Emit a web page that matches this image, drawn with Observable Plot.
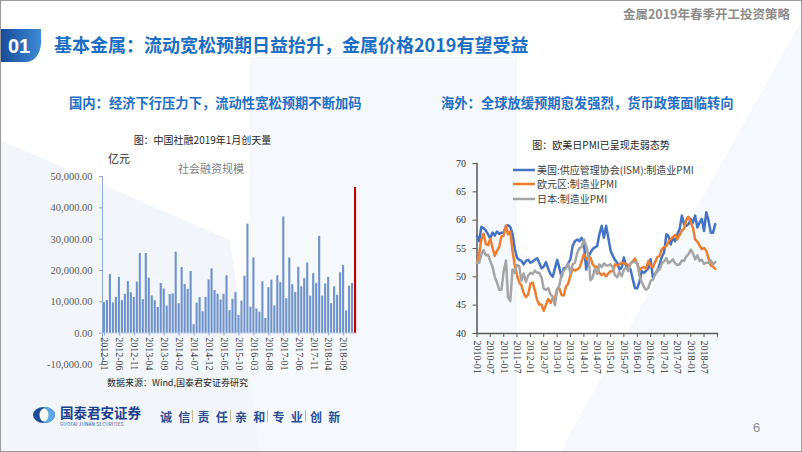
<!DOCTYPE html>
<html><head><meta charset="utf-8">
<script src="https://cdn.jsdelivr.net/npm/d3@7"></script>
<script src="https://cdn.jsdelivr.net/npm/@observablehq/plot@0.6"></script>
<style>
html,body{margin:0;padding:0;background:#fff;}
body{width:802px;height:452px;position:relative;overflow:hidden;font-family:"Noto Sans CJK SC","Noto Sans",sans-serif;}
.abs{position:absolute;white-space:nowrap;line-height:1;}
#frame{position:absolute;left:0;top:0;width:800px;height:450px;border:1px solid #9a9a9a;}
.plotbox{position:absolute;}
.plotbox svg{overflow:visible;}
</style></head><body>
<svg class="abs" style="left:0;top:0" width="802" height="452">
  <defs>
    <linearGradient id="tabg" x1="0" x2="1" y1="0" y2="0">
      <stop offset="0" stop-color="#174a97"/><stop offset="1" stop-color="#3d8bd8"/>
    </linearGradient>
  </defs>
  <polygon points="250,57 517,57 517,452 250,452" fill="#f5f8fc"/>
  <polygon points="802,20 802,452 560,452" fill="#f5f8fc"/>
  <polygon points="0,140 230,240 260,452 0,452" fill="#f2f6fb"/>
  <path d="M0,29 L41,29 L41,44 Q39,60 27,62 L0,62 Z" fill="url(#tabg)"/>
  <g transform="translate(44,415)">
    <ellipse cx="0" cy="0" rx="11" ry="8" fill="#1d4d9e"/>
    <path d="M0,-8 A11,8 0 0 1 0,8 Z" fill="#5aa8e6"/>
    <ellipse cx="0" cy="0" rx="4.5" ry="6.5" fill="#fff"/>
  </g>
</svg>
<div id="frame"></div>

<div class="abs" style="right:12px;top:8px;font-size:12.5px;font-weight:700;color:#8c8c8c;">金属2019年春季开工投资策略</div>
<div class="abs" style="left:8px;top:35.5px;font-size:20px;font-weight:700;color:#fff;font-family:'Liberation Sans','Noto Sans',sans-serif;">01</div>
<div class="abs" style="left:54px;top:35px;font-size:18px;font-weight:700;color:#1a6ec4;">基本金属：流动宽松预期日益抬升，金属价格2019有望受益</div>
<div class="abs" style="left:69px;top:96px;font-size:13.3px;font-weight:700;color:#1f6fc6;">国内：经济下行压力下，流动性宽松预期不断加码</div>
<div class="abs" style="left:441px;top:96px;font-size:13.3px;font-weight:700;color:#1f6fc6;">海外：全球放缓预期愈发强烈，货币政策面临转向</div>

<div class="abs" style="left:202.5px;top:135px;transform:translateX(-50%);font-size:10px;color:#262626;">图：中国社融2019年1月创天量</div>
<div class="abs" style="left:601px;top:140px;transform:translateX(-50%);font-size:10px;color:#262626;">图：欧美日PMI已呈现走弱态势</div>
<div class="abs" style="left:108px;top:152.5px;font-size:11px;color:#262626;">亿元</div>
<div class="abs" style="left:178px;top:162.5px;font-size:11px;color:#7f7f7f;">社会融资规模</div>
<div class="abs" style="left:107px;top:377.5px;font-size:9px;color:#262626;">数据来源：Wind,国泰君安证券研究</div>

<div id="left" class="plotbox" style="left:40px;top:150px;"></div>
<div id="right" class="plotbox" style="left:420px;top:150px;"></div>
<div id="legend"></div>

<div class="abs" style="left:60px;top:406px;font-size:13.5px;font-weight:700;color:#1d3f8f;">国泰君安证券</div>
<div class="abs" style="left:60px;top:421.5px;font-size:4.6px;color:#1d3f8f;letter-spacing:0.2px;">GUOTAI JUNAN SECURITIES</div>
<div id="slogan"></div>
<div class="abs" style="left:753px;top:421px;font-size:13px;color:#8c8c8c;font-family:'Liberation Sans',sans-serif;">6</div>

<script>
// ---------- Left chart data: 社会融资规模 (亿元), monthly 2012-01 .. 2019-01 ----------
const sfStart = "2012-01";
const sfValues = [
  9721,10431,18704,9637,11425,17802,10395,12394,16453,12906,11441,16283,
  25446,10705,25427,17550,11871,10375,8191,15841,14119,8645,12310,12532,
  25845,9370,20934,15510,14013,19687,2733,9577,11350,6815,11459,16976,
  20516,13609,12433,10582,12397,18317,7188,10790,13000,5612,10214,18151,
  34800,8300,24000,7700,6700,16400,4700,14500,16900,8700,18300,16100,
  37100,11000,24000,15500,13000,21000,14800,17400,22400,11800,19000,15900,
  30900,11800,15700,17800,9400,14800,12100,19300,21600,7100,15000,15900,
  46500
];
const sfTickLabels = ["2012-01","2012-06","2012-11","2013-04","2013-09","2014-02","2014-07","2014-12",
  "2015-05","2015-10","2016-03","2016-08","2017-01","2017-06","2017-11","2018-04","2018-09"];
const sfYTicks = [-10000,0,10000,20000,30000,40000,50000];

// ---------- Right chart data: PMI, monthly from 2010-01 ----------
const pmiStart = "2010-01";
const ismPMI = [
  57.2,56.3,58.8,58.6,58.2,57.5,56.8,57.8,57.3,58.0,57.6,57.8,
  57.8,59.0,59.1,58.8,57.6,55.0,53.4,53.0,52.8,52.2,52.8,53.0,
  52.5,52.7,53.0,53.3,52.5,51.5,51.8,52.6,51.4,50.5,50.0,51.5,
  53.0,51.5,50.0,51.5,51.6,52.4,53.1,55.5,56.3,56.6,56.3,56.9,
  56.0,51.3,53.4,54.3,54.9,55.2,55.4,57.5,59.0,56.9,59.0,56.9,
  54.6,53.7,53.0,52.5,51.3,51.6,53.4,51.9,51.5,51.3,49.5,48.0,
  48.0,49.2,51.0,50.7,51.1,51.5,53.1,49.8,50.5,51.0,52.2,53.5,
  54.3,57.5,57.2,55.7,56.9,56.3,57.5,58.4,60.8,59.3,59.0,59.3,
  60.2,59.6,60.8,58.7,59.6,60.2,58.1,61.4,59.9,57.8,57.8,59.3
];
const euroPMI = [
  52.4,54.2,56.6,57.6,55.8,55.6,56.7,55.1,53.7,54.6,55.3,57.1,
  57.3,59.0,57.5,58.0,54.6,52.0,50.4,49.0,48.5,47.1,46.4,46.9,
  48.8,49.0,47.7,45.9,45.1,45.1,44.0,45.1,46.1,45.4,46.2,46.1,
  47.9,47.9,46.8,46.7,48.3,48.8,50.3,51.4,51.1,51.3,51.6,52.7,
  54.0,53.2,53.0,53.4,52.2,51.8,51.8,50.7,50.3,50.6,50.1,50.6,
  51.0,51.0,52.2,52.0,52.2,52.5,52.4,52.3,52.0,52.3,52.8,53.2,
  52.3,51.2,51.6,51.7,51.5,52.8,52.0,51.7,52.6,53.5,53.7,54.9,
  55.2,55.4,56.2,56.7,57.0,57.4,56.6,57.4,58.1,58.5,60.1,60.6,
  59.6,58.6,56.6,56.2,55.5,54.9,55.1,54.6,53.2,52.0,51.8,51.4
];
const japanPMI = [
  52.5,52.5,54.0,54.7,53.8,53.9,52.8,51.8,50.0,49.0,47.7,47.7,
  51.0,52.9,46.4,45.7,51.3,50.7,52.1,51.9,49.3,50.6,49.1,50.2,
  50.7,50.5,51.1,50.7,50.7,49.9,47.9,47.7,48.0,46.9,46.5,45.0,
  47.7,48.5,50.4,51.1,51.5,52.3,50.7,52.2,52.5,54.2,55.1,55.2,
  56.6,55.5,53.9,49.4,49.9,51.5,50.5,52.2,51.7,52.4,52.0,52.0,
  52.2,51.6,50.3,49.9,50.9,50.1,51.2,51.7,51.0,52.4,52.6,52.6,
  52.3,50.1,49.1,48.2,47.7,48.1,49.3,49.5,50.4,51.4,51.3,52.4,
  52.7,53.3,52.4,52.7,53.1,52.4,52.1,52.2,52.9,52.8,53.6,54.0,
  54.8,54.1,53.1,53.8,52.8,53.0,52.3,52.5,52.5,52.9,52.2,52.6
];
const pmiSeries = ["美国:供应管理协会(ISM):制造业PMI","欧元区:制造业PMI","日本:制造业PMI"];
const pmiColors = ["#4472c4","#ed7d31","#a5a5a5"];
const pmiYTicks = [40,45,50,55,60,65,70];
const pmiXTickLabels = ["2010-01","2010-07","2011-01","2011-07","2012-01","2012-07","2013-01","2013-07",
  "2014-01","2014-07","2015-01","2015-07","2016-01","2016-07","2017-01","2017-07","2018-01","2018-07"];
const pmiEnd = "2019-01";

const parseM = d3.utcParse("%Y-%m");
const fmtM = d3.utcFormat("%Y-%m");

// ---------- Left chart ----------
const sfMonths = sfValues.map((_, i) => fmtM(d3.utcMonth.offset(parseM(sfStart), i)));
const sfData = sfValues.map((v, i) => ({month: sfMonths[i], value: v, color: i === sfValues.length - 1 ? "#c00000" : "#6e92c9"}));
const yFmt = d => d3.format(",.2f")(d).replace("\u2212", "-");

const left = Plot.plot({
  width: 330, height: 245,
  marginTop: 26, marginBottom: 31, marginLeft: 62, marginRight: 13,
  style: {background: "transparent", fontFamily: "'Liberation Serif', serif", fontSize: "10.5px", overflow: "visible"},
  x: {type: "band", domain: sfMonths, padding: 0.3, axis: null},
  y: {domain: [-10000, 50000], axis: null},
  color: {type: "identity"},
  marks: [
    Plot.axisY({ticks: sfYTicks, tickFormat: yFmt, tickSize: 3, tickPadding: 7, stroke: "#8fa9d3", fill: "#595959", label: null}),
    Plot.frame({anchor: "left", stroke: "#8fa9d3"}),
    Plot.ruleY([0], {stroke: "#c5d3ea"}),
    Plot.barY(sfData, {x: "month", y: "value", fill: "color"}),
    Plot.ruleX(sfTickLabels, {x: d => d, y1: 0, y2: -900, stroke: "#8fa9d3"}),
    Plot.text(sfTickLabels, {x: d => d, y: () => 0, rotate: 90, textAnchor: "start", dy: 4, fill: "#404040", fontSize: 10})
  ]
});
document.getElementById("left").appendChild(left);

// ---------- Right chart ----------
const pmiRows = [];
[ismPMI, euroPMI, japanPMI].forEach((arr, s) => arr.forEach((v, i) => pmiRows.push({series: pmiSeries[s], date: d3.utcMonth.offset(parseM(pmiStart), i), value: v})));
const xTicks = pmiXTickLabels.map(parseM).concat([parseM(pmiEnd)]);

const right = Plot.plot({
  width: 320, height: 240,
  marginTop: 13, marginBottom: 57, marginLeft: 56.5, marginRight: 23,
  style: {background: "transparent", fontFamily: "'Liberation Serif', serif", fontSize: "10px", overflow: "visible"},
  x: {type: "utc", domain: [parseM(pmiStart), parseM(pmiEnd)], axis: null},
  y: {domain: [40, 70], axis: null},
  color: {domain: pmiSeries, range: pmiColors},
  marks: [
    Plot.axisY({ticks: pmiYTicks, tickSize: 4, tickPadding: 7, stroke: "#595959", fill: "#333", label: null}),
    Plot.axisX({ticks: xTicks, tickFormat: d => fmtM(d) === pmiEnd ? "" : fmtM(d), tickRotate: 90, tickSize: 4, tickPadding: 3, stroke: "#595959", fill: "#333", label: null}),
    Plot.frame({anchor: "left", stroke: "#595959", strokeWidth: 1.5}),
    Plot.frame({anchor: "bottom", stroke: "#595959", strokeWidth: 1.5}),
    Plot.line(pmiRows, {x: "date", y: "value", z: "series", stroke: "series", strokeWidth: 2.5, curve: "linear"})
  ]
});
document.getElementById("right").appendChild(right);

// ---------- Legend (HTML) ----------
const legend = document.getElementById("legend");
const legendY = [169.5, 184, 198.5];
pmiSeries.forEach((name, i) => {
  const row = document.createElement("div");
  row.className = "abs";
  row.style.cssText = `left:513px;top:${legendY[i] - 6}px;height:12px;display:flex;align-items:center;font-size:10px;color:#404040;`;
  row.innerHTML = `<svg width="22" height="12" style="margin-right:2px"><line x1="0" x2="22" y1="6" y2="6" stroke="${pmiColors[i]}" stroke-width="2.5"/></svg><span>${name}</span>`;
  legend.appendChild(row);
});

// ---------- Slogan ----------
const sloganGroups = [["诚","信"],["责","任"],["亲","和"],["专","业"],["创","新"]];
const slogan = document.getElementById("slogan");
sloganGroups.forEach((g, k) => {
  const x0 = 160 + k * 37.5;
  g.forEach((c, j) => {
    const s = document.createElement("div");
    s.className = "abs";
    s.style.cssText = `left:${x0 + j * 18.3}px;top:410.5px;font-size:12px;font-weight:700;color:#2b4e96;`;
    s.textContent = c;
    slogan.appendChild(s);
  });
  if (k < sloganGroups.length - 1) {
    const bar = document.createElement("div");
    bar.className = "abs";
    bar.style.cssText = `left:${x0 + 32}px;top:410px;width:1px;height:12px;background:#c8b48e;`;
    slogan.appendChild(bar);
  }
});
</script>
</body></html>
